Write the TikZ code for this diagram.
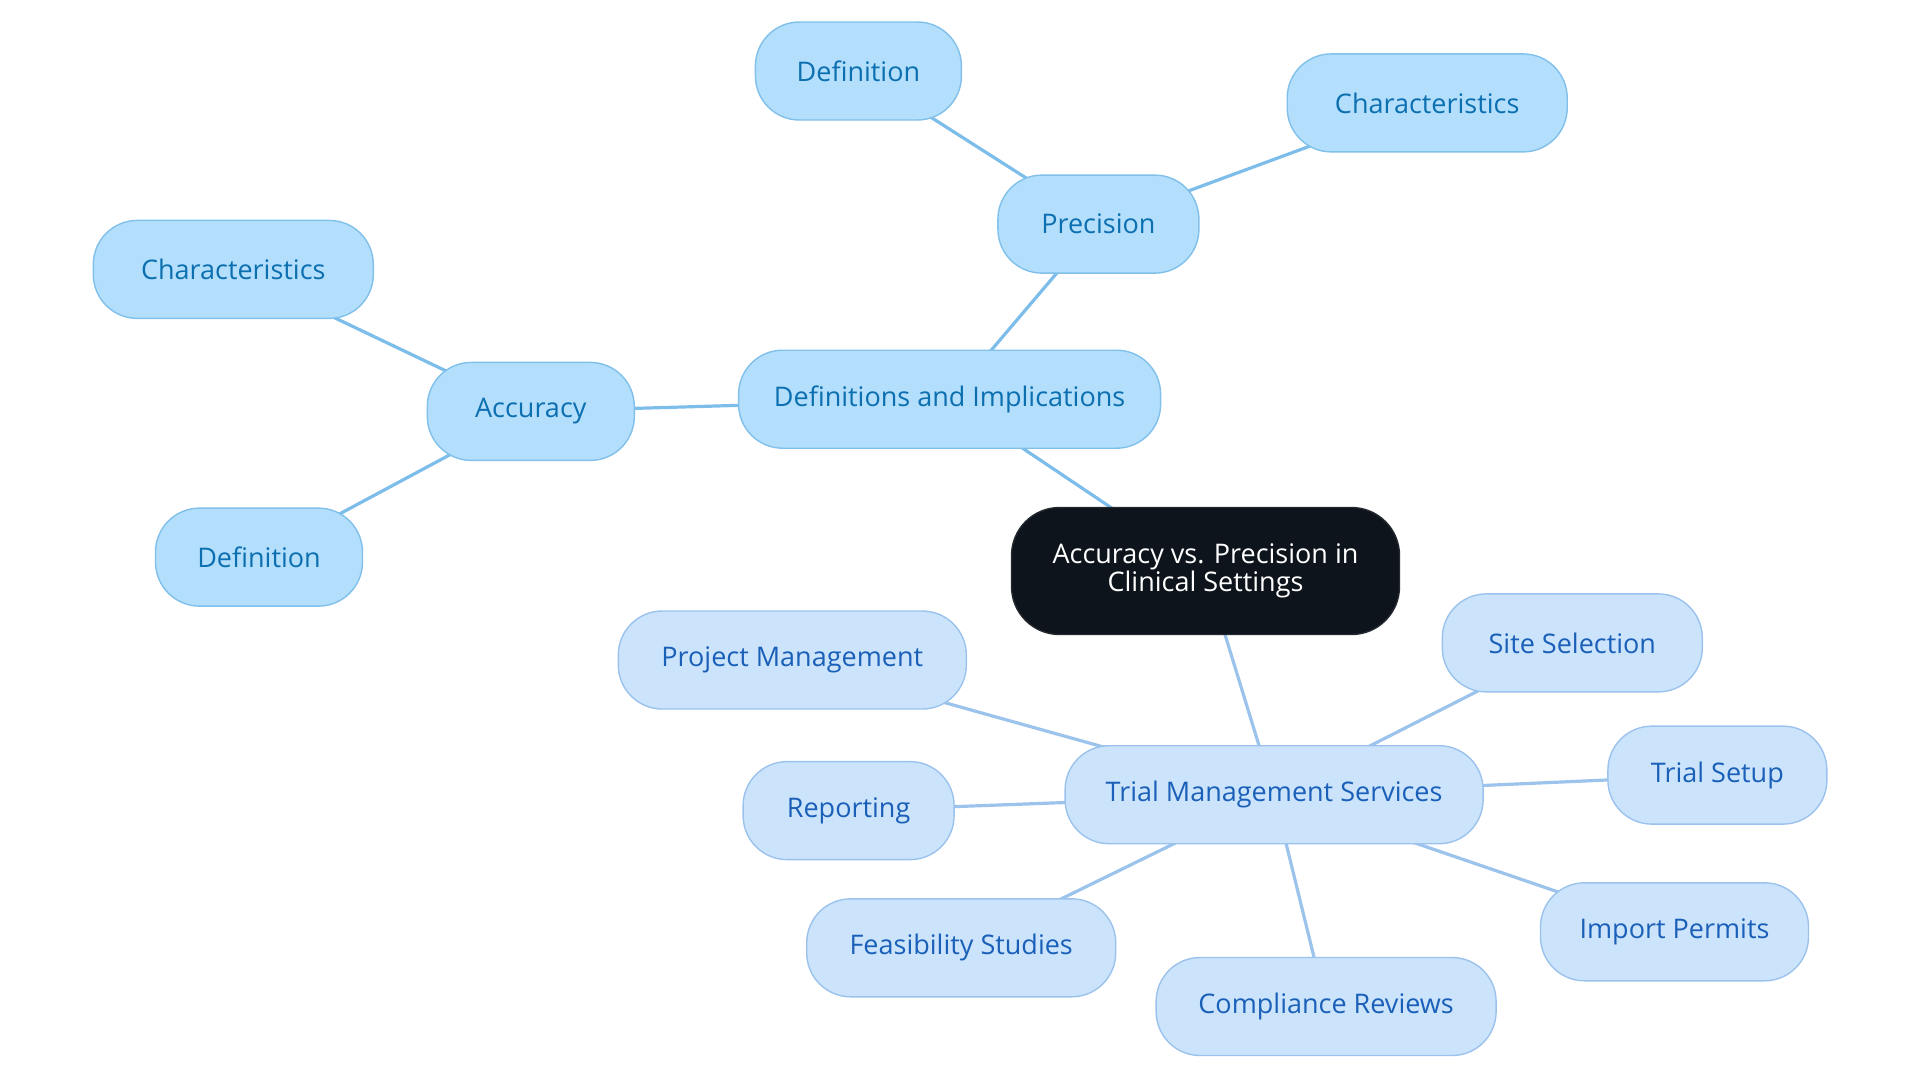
\documentclass[tikz,border=0pt]{standalone}
\usepackage{fontspec}
\setmainfont{Open Sans}
\usetikzlibrary{backgrounds}
\definecolor{fillA}{HTML}{B3DEFC}
\definecolor{strokeA}{HTML}{80C0EA}
\definecolor{textA}{HTML}{0B6FB0}
\definecolor{edgeA}{HTML}{7DBDEA}
\definecolor{fillB}{HTML}{CCE4FB}
\definecolor{strokeB}{HTML}{9BC2EC}
\definecolor{textB}{HTML}{1A5FB8}
\definecolor{edgeB}{HTML}{9BC3EC}
\definecolor{rootfill}{HTML}{0D141C}
\tikzset{
  base/.style={rectangle, rounded corners=22pt, line width=0.7pt, minimum height=49pt, inner sep=0pt, align=center, font=\fontsize{13.5}{14}\selectfont},
  nA/.style={base, fill=fillA, draw=strokeA, text=textA},
  nB/.style={base, fill=fillB, draw=strokeB, text=textB},
  rootbox/.style={base, fill=rootfill, draw=rootfill!80!gray, text=white, rounded corners=24pt, minimum height=63.5pt},
  eA/.style={draw=edgeA, line width=1.6pt},
  eB/.style={draw=edgeB, line width=1.6pt}
}
\begin{document}
\begin{tikzpicture}[x=0.5pt,y=-0.5pt]
\useasboundingbox (0,0) rectangle (1920,1083);
\node[rootbox, minimum width=194pt] (root) at (1205.5,571) {Accuracy vs. Precision in\\Clinical Settings};
\node[nA, minimum width=211pt] (defs) at (949.6,399.2) {Definitions and Implications};
\node[nA, minimum width=100.5pt] (prec) at (1098.4,224.1) {Precision};
\node[nA, minimum width=103pt] (pdef) at (858.4,71) {Definition};
\node[nA, minimum width=140pt] (pchar) at (1427.2,102.9) {Characteristics};
\node[nA, minimum width=103.5pt] (acc) at (530.8,411.4) {Accuracy};
\node[nA, minimum width=140pt] (achar) at (233.3,269.4) {Characteristics};
\node[nA, minimum width=103.5pt] (adef) at (259,557.1) {Definition};
\node[nB, minimum width=209pt] (tms) at (1274.1,794.7) {Trial Management Services};
\node[nB, minimum width=130pt] (site) at (1572.3,642.9) {Site Selection};
\node[nB, minimum width=109.5pt] (setup) at (1717.4,775.1) {Trial Setup};
\node[nB, minimum width=134pt] (import) at (1674.5,931.8) {Import Permits};
\node[nB, minimum width=170pt] (comp) at (1326.1,1006.5) {Compliance Reviews};
\node[nB, minimum width=154.5pt] (feas) at (961.2,947.8) {Feasibility Studies};
\node[nB, minimum width=105.5pt] (rep) at (848.6,810.6) {Reporting};
\node[nB, minimum width=174pt] (proj) at (792.3,660) {Project Management};
\begin{scope}[on background layer]
\draw[eA] (root.center) -- (defs.center);
\draw[eA] (defs.center) -- (prec.center);
\draw[eA] (prec.center) -- (pdef.center);
\draw[eA] (prec.center) -- (pchar.center);
\draw[eA] (defs.center) -- (acc.center);
\draw[eA] (acc.center) -- (achar.center);
\draw[eA] (acc.center) -- (adef.center);
\draw[eB] (root.center) -- (tms.center);
\draw[eB] (tms.center) -- (site.center);
\draw[eB] (tms.center) -- (setup.center);
\draw[eB] (tms.center) -- (import.center);
\draw[eB] (tms.center) -- (comp.center);
\draw[eB] (tms.center) -- (feas.center);
\draw[eB] (tms.center) -- (rep.center);
\draw[eB] (tms.center) -- (proj.center);
\end{scope}
\end{tikzpicture}
\end{document}
